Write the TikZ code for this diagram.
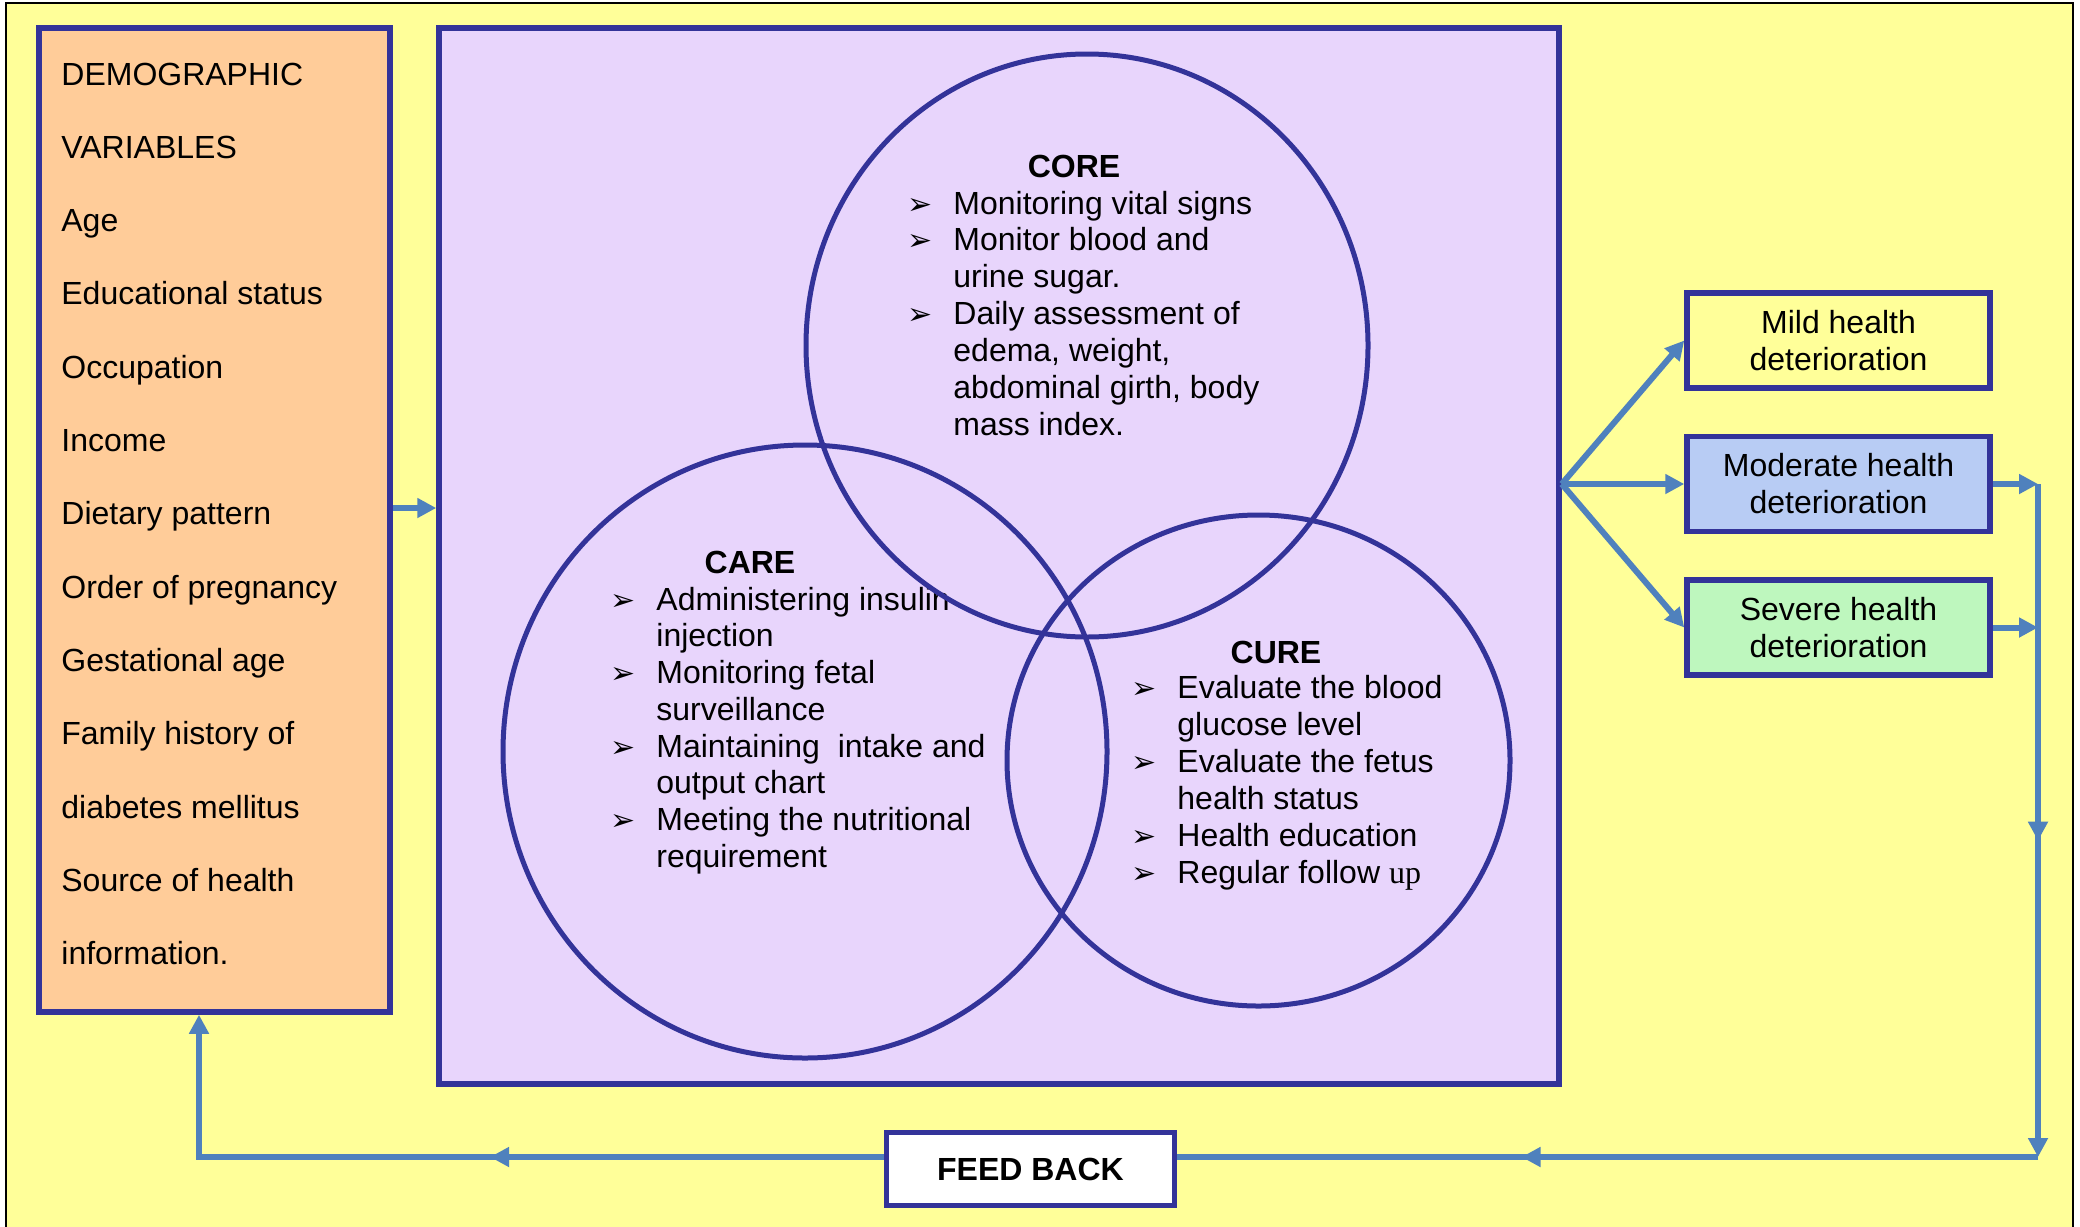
\documentclass[tikz,border=0pt]{standalone}
\usepackage{fontspec}
\setmainfont{Liberation Sans}
\newfontfamily\symfont{DejaVu Sans}
\newfontfamily\upfont{Liberation Serif}
\usetikzlibrary{arrows.meta,decorations.markings,positioning}

\definecolor{bgyellow}{HTML}{FFFF99}
\definecolor{demoorange}{HTML}{FFCC99}
\definecolor{framelilac}{HTML}{E8D5FC}
\definecolor{edgeblue}{HTML}{333399}
\definecolor{arrowblue}{HTML}{4F81BD}
\definecolor{modblue}{HTML}{B8CCF4}
\definecolor{sevgreen}{HTML}{BEF7BE}

\tikzset{
  txt/.style={font=\fontsize{16}{18.5}\selectfont, inner sep=0pt, anchor=base west},
  head/.style={font=\fontsize{16}{18.5}\selectfont\bfseries, inner sep=0pt, anchor=base},
  bul/.style={font=\symfont\fontsize{15}{15}\selectfont, inner sep=0pt, anchor=base west},
  box/.style={draw=edgeblue, line width=2.75pt, inner sep=0pt},
  result/.style={box, minimum width=151.5pt, minimum height=47.5pt, align=center,
    font=\fontsize{16}{18.5}\selectfont},
  ring/.style={draw=edgeblue, line width=2.5pt},
  link/.style={draw=arrowblue, color=arrowblue, line width=3pt},
  flow/.style={link, -{Triangle[length=9.5pt,width=9.5pt]}},
  midarrow/.style={postaction={decorate, decoration={markings,
    mark=at position #1 with {\arrow{Triangle[length=9.5pt,width=9.5pt]}}}}}
}

\begin{document}
\begin{tikzpicture}[x=0.5pt, y=-0.5pt]

\useasboundingbox (0,0) rectangle (2080,1226);

% Background
\draw[fill=bgyellow, line width=1pt] (6,3) rectangle (2073,1240);

% Boxes
\node[box, fill=demoorange, minimum width=175.5pt, minimum height=492pt] (demo) at (214.5,520) {};
\node[box, fill=framelilac, minimum width=560pt, minimum height=528pt] (frame) at (999,556) {};
\node[result, fill=bgyellow] (mild) at (1838.5,340.5) {Mild health\\deterioration};
\node[result, fill=modblue, below=21.5pt of mild] (moderate) {Moderate health\\deterioration};
\node[result, fill=sevgreen, below=21.5pt of moderate] (severe) {Severe health\\deterioration};
\node[box, fill=white, minimum width=144pt, minimum height=36.5pt,
  font=\fontsize{16}{18.5}\selectfont\bfseries] (feedback) at (1030.5,1169) {FEED BACK};

% Demographic variables
\foreach \t [count=\i from 0] in {DEMOGRAPHIC, VARIABLES, Age, Educational status,
  Occupation, Income, Dietary pattern, Order of pregnancy, Gestational age,
  Family history of, diabetes mellitus, Source of health, information.}
  \node[txt] (var\i) at (61, 85+73.33*\i) {\t};

% Core
\node[head] (coreh) at (1074,177) {CORE};
\foreach \t [count=\i from 0] in {Monitoring vital signs, Monitor blood and, urine sugar.,
  Daily assessment of, {edema, weight,}, {abdominal girth, body}, mass index.}
  \node[txt] (core\i) at (953, 214+36.85*\i) {\t};
\foreach \i in {0,1,3}
  \node[bul] (coreb\i) at ([xshift=-23pt]core\i.base west) {➢};

% Care
\node[head] (careh) at (750,573) {CARE};
\foreach \t [count=\i from 0] in {Administering insulin, injection, Monitoring fetal,
  surveillance, Maintaining~ intake and, output chart, Meeting the nutritional, requirement}
  \node[txt] (care\i) at (656, 610+36.75*\i) {\t};
\foreach \i in {0,2,4,6}
  \node[bul] (careb\i) at ([xshift=-23pt]care\i.base west) {➢};

% Cure
\node[head] (cureh) at (1276,663) {CURE};
\foreach \t [count=\i from 0] in {Evaluate the blood, glucose level, Evaluate the fetus,
  health status, Health education, Regular follow {\upfont up}}
  \node[txt] (cure\i) at (1177, 698+37*\i) {\t};
\foreach \i in {0,2,4,5}
  \node[bul] (cureb\i) at ([xshift=-23pt]cure\i.base west) {➢};

% Circles
\draw[ring] (1087,345.5) ellipse [x radius=140.5pt, y radius=145.75pt];
\draw[ring] (805,751.5) ellipse [x radius=151pt, y radius=153.25pt];
\draw[ring] (1258.5,760.5) ellipse [x radius=125.75pt, y radius=122.75pt];

% Arrows
\coordinate (fan) at ([yshift=36pt]frame.east);
\coordinate (railtop) at (2038,484);
\coordinate (railbot) at (2038,1157);
\coordinate (back) at (199,1157);

\draw[flow] ([yshift=6pt]demo.east) -- ([yshift=6pt]demo.east -| frame.west);
\draw[flow] (fan) -- (mild.west);
\draw[flow] (fan) -- (moderate.west);
\draw[flow] (fan) -- (severe.west);
\draw[flow] (moderate.east) -- (moderate.east -| railtop);
\draw[flow] (severe.east) -- (severe.east -| railtop);
\draw[flow, midarrow=0.53] (railtop) -- (railbot);
\draw[link, midarrow=0.6] (railbot) -- (railbot -| feedback.east);
\draw[flow, midarrow=0.476] (back -| feedback.west) -- (back) -- (back |- demo.south);

\end{tikzpicture}
\end{document}
